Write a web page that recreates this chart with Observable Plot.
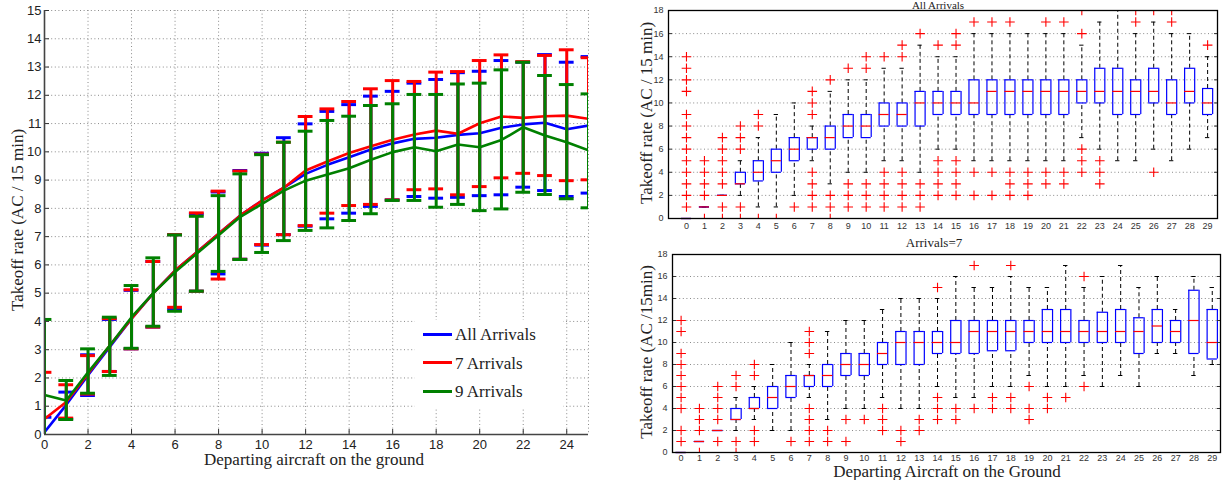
<!DOCTYPE html>
<html><head><meta charset="utf-8">
<script src="https://cdn.jsdelivr.net/npm/d3@7"></script>
<script src="https://cdn.jsdelivr.net/npm/@observablehq/plot@0.6"></script>
<style>
body{margin:0;background:#fff;}
#root{position:relative;width:1225px;height:480px;overflow:hidden;background:#fff;}
.abs{position:absolute;}
.serif{font-family:"Liberation Serif","Times New Roman",serif;color:#222;white-space:nowrap;}
.rot{transform:translate(-50%,-50%) rotate(-90deg);}
.ctr{transform:translate(-50%,-50%);}
.leg{position:absolute;left:415px;top:320px;width:148px;height:87px;background:#fff;}
.row{position:absolute;left:8px;height:20px;font-size:17px;}
.row span.sw{display:inline-block;width:29px;height:0;border-top:3px solid;vertical-align:middle;margin-right:3px;position:relative;top:-2px;}
</style></head><body><div id="root"></div>
<script>
// ---------- Left chart data ----------
const departing = [0,1,2,3,4,5,6,7,8,9,10,11,12,13,14,15,16,17,18,19,20,21,22,23,24,25];
const meanAll   = [0.08,1.05,2.1,3.1,4.1,5.0,5.8,6.45,7.1,7.75,8.28,8.73,9.22,9.54,9.81,10.08,10.3,10.46,10.5,10.6,10.66,10.85,10.97,11.03,10.8,10.93];
const meanSeven = [0.55,1.15,2.15,3.15,4.1,5.0,5.8,6.45,7.1,7.75,8.28,8.73,9.34,9.66,9.96,10.2,10.43,10.61,10.75,10.64,11.01,11.25,11.2,11.26,11.28,11.17];
const meanNine  = [1.4,1.2,2.2,3.15,4.15,5.0,5.75,6.4,7.05,7.7,8.16,8.63,8.98,9.2,9.42,9.72,9.99,10.16,10.02,10.26,10.16,10.42,10.87,10.58,10.34,10.05];
const hiAll   = [0.61,1.5,2.82,4.07,5.1,6.12,7.07,7.8,8.58,9.34,9.95,10.5,10.99,11.43,11.67,11.97,12.14,12.43,12.56,12.8,12.85,13.23,13.17,13.44,13.17,13.37];
const loAll   = [-0.45,0.55,1.38,2.23,3.03,3.8,4.42,5.07,5.68,6.2,6.7,7.07,7.37,7.63,7.83,8.07,8.3,8.42,8.36,8.39,8.45,8.48,8.75,8.63,8.42,8.54];
const hiSeven = [2.2,1.76,2.79,4.1,5.12,6.12,7.07,7.84,8.61,9.32,9.92,10.34,11.25,11.52,11.78,12.23,12.52,12.49,12.82,12.84,13.23,13.43,13.19,13.41,13.61,13.33];
const loSeven = [-1.1,0.58,1.43,2.23,3.03,3.8,4.5,5.07,5.5,6.2,6.72,7.07,7.39,7.83,8.1,8.14,8.3,8.66,8.69,8.48,8.77,9.08,9.24,9.16,8.98,9.01];
const hiNine  = [4.07,1.91,3.03,4.15,5.27,6.25,7.06,7.72,8.45,9.22,9.9,10.34,10.73,11.11,11.26,11.64,11.7,12.03,12.03,12.4,12.43,12.9,13.17,12.7,12.38,12.05];
const loNine  = [-1.3,0.53,1.46,2.09,3.05,3.83,4.36,5.07,5.77,6.19,6.44,6.86,7.22,7.31,7.57,7.81,8.28,8.28,8.04,8.14,7.92,7.98,8.57,8.49,8.34,8.02];
const seriesNames = ["All Arrivals","7 Arrivals","9 Arrivals"];
const seriesColors = ["#0000ff","#ff0000","#008000"];
const leftXTicks = [0,2,4,6,8,10,12,14,16,18,20,22,24];
const leftYTicks = [0,1,2,3,4,5,6,7,8,9,10,11,12,13,14,15];

// ---------- Box plot data ----------
const cats = [0,1,2,3,4,5,6,7,8,9,10,11,12,13,14,15,16,17,18,19,20,21,22,23,24,25,26,27,28,29];
// All arrivals
const q1All  = [0,1,2,3,3.25,4,5,6,6,7,7,8,8,8,9,9,9,9,9,9,9,9,10,10,9,9,10,9,10,9];
const medAll = [0,1,2,3,4,5,6,7,7,8,8,9,9,10,10,10,10,11,11,11,11,11,11,11,11,11,11,10,11,10];
const q3All  = [0,1,2,4,5,6,7,7,8,9,9,10,10,11,11,11,12,12,12,12,12,12,12,13,13,12,13,12,13,11.25];
const wloAll = [0,1,2,2,1,1,2,5,3,4,4,5,5,4,6,6,5,5,5,5,5,5,7,6,5,5,6,5,6,7];
const whiAll = [0,1,2,5,7,9,10,8,11,12,12,13,13,15,14,14,16,16,16,16,16,16,15,17,18,16,17,16,16,14];
const outAll = [
  [1,2,3,4,5,6,7,8,9,11,12,13,14],[0,2,3,4,5],[0,1,3,4,5,6,7],[0,1,6,7,8],[0,8,9],[0],[1],
  [1,2,3,4,9,10,11],[0,1,2,12],[1,2,3,13],[1,2,3,13,14],[1,2,3,4,14],[1,2,3,4,14,15],[1,2,3,16],
  [2,3,4,5,15],[2,3,4,5,15,16],[2,4,17],[2,4,17],[2,3,4,17],[2,3,4],[3,4,17],[3,4,17],
  [4,5,6,16,18],[3,4,5],[],[17,18],[4,18],[17,18],[],[15]
];
// Arrivals = 7
const q1Sev  = [0,1,2,3,4,4,5,6,6,7,7,8,8,8,9,9,9,9.25,9.25,10,10,10,10,10,10,9,10,10,9,8.5];
const medSev = [0,1,2,3,4,5,6,7,7,8,8,9,10,10,10,10,11,11,11,11,11,11,11,11,11,11,11.5,11,12,10];
const q3Sev  = [0,1,2,4,5,6,7,7,8,9,9,10,11,11,11,12,12,12,12,12,13,13,12,12.75,13,12.25,13,12,14.75,13];
const wloSev = [0,1,2,2,3,2,2,5,3,4,4,5,4,4,6,5,5,6,6,7,6,6,7,6,7,6,9,9,7,8];
const whiSev = [0,1,2,5,6,8,10,8,11,12,12,13,14,14,14,16,15,15,16,15,15,17,15,16,17,15,16,13,16,15];
const outSev = [
  [1,2,4,5,6,7,8,9,11,12],[0,2,3,4],[1,3,4,5,6],[0,1,6,7],[1,2,7,8],[],[1],
  [1,2,3,4,9,10,11],[1,2],[1,3],[3],[2,3,4],[1,2],[2,3],[3,4,5,15],[3,4],[4,17],[4,5],
  [4,5,17],[3,4,6],[4,5],[5],[6,16],[],[],[],[],[],[],[]
];
const boxYTicks = [0,2,4,6,8,10,12,14,16,18];

// ---------- helpers ----------
const root = document.getElementById("root");
function place(el, left, top){ el.style.position="absolute"; el.style.left=left+"px"; el.style.top=top+"px"; root.appendChild(el); return el; }
function label(text, x, y, size, cls){ const d=document.createElement("div"); d.className="serif "+cls; d.textContent=text; d.style.fontSize=size+"px"; place(d,x,y); return d; }
const gridStyle = {stroke:"#8a8a8a", strokeOpacity:1, strokeDasharray:"1,2.6", strokeWidth:1};

// ---------- Left chart ----------
const means=[meanAll,meanSeven,meanNine], his=[hiAll,hiSeven,hiNine], los=[loAll,loSeven,loNine];
const seriesMarks = [];
seriesNames.forEach((name, s) => {
  const rows = departing.map((x,i)=>({x, mean:means[s][i], hi:his[s][i], lo:los[s][i]}));
  const c = seriesColors[s];
  seriesMarks.push(
    Plot.ruleX(rows, {x:"x", y1:"lo", y2:"hi", stroke:c, strokeWidth:3, clip:true}),
    Plot.ruleY(rows, {y:"hi", x1:d=>d.x-0.34, x2:d=>d.x+0.34, stroke:c, strokeWidth:3, clip:true}),
    Plot.ruleY(rows, {y:"lo", x1:d=>d.x-0.34, x2:d=>d.x+0.34, stroke:c, strokeWidth:3, clip:true}),
    Plot.line(rows, {x:"x", y:"mean", stroke:c, strokeWidth:2.6, clip:true})
  );
});
const left = Plot.plot({
  width:600, height:480,
  marginLeft:44, marginRight:12, marginTop:10, marginBottom:46,
  x:{domain:[0,25]}, y:{domain:[0,15]},
  style:{fontFamily:"'Liberation Sans', Arial, sans-serif", fontSize:"13px", color:"#222", background:"transparent"},
  marks:[
    Plot.gridX([...leftXTicks,25], gridStyle),
    Plot.gridY(leftYTicks, gridStyle),
    ...seriesMarks,
    Plot.axisX({ticks:leftXTicks, tickSize:-5, tickPadding:10, label:null, stroke:"#333"}),
    Plot.axisY({ticks:leftYTicks, tickSize:-5, tickPadding:8, label:null, stroke:"#333"}),
    Plot.ruleX([0], {stroke:"#444", strokeWidth:1.6}),
    Plot.ruleY([0], {stroke:"#444", strokeWidth:1.6})
  ]
});
place(left, 0, 0);
label("Takeoff rate (AC / 15 min)", 18, 220, 17, "rot");
label("Departing aircraft on the ground", 314, 460, 17, "ctr");
// legend
const leg = document.createElement("div"); leg.className="leg"; root.appendChild(leg);
seriesNames.forEach((n,i)=>{
  const r=document.createElement("div"); r.className="row serif"; r.style.top=(5+i*28.5)+"px";
  r.innerHTML=`<span class="sw" style="border-color:${seriesColors[i]}"></span>${n}`;
  leg.appendChild(r);
});

// ---------- Box plots ----------
function boxPlot({q1,med,q3,wlo,whi,out,xdom,margins,height,width,xPad}){
  const rows = cats.map((c,i)=>({c,q1:q1[i],med:med[i],q3:q3[i],wlo:wlo[i],whi:whi[i]}));
  const outs = cats.flatMap((c,i)=>out[i].map(v=>({c,v})));
  const bw=0.28, cw=0.12;
  return Plot.plot({
    width, height, ...margins,
    x:{domain:xdom}, y:{domain:[0,18]},
    style:{fontFamily:"'Liberation Sans', Arial, sans-serif", fontSize:"9px", color:"#333", background:"transparent"},
    marks:[
      Plot.gridY(boxYTicks.slice(1,-1), gridStyle),
      Plot.ruleX(rows, {x:"c", y1:"q3", y2:"whi", stroke:"#000", strokeDasharray:"4,3", strokeWidth:1}),
      Plot.ruleX(rows, {x:"c", y1:"wlo", y2:"q1", stroke:"#000", strokeDasharray:"4,3", strokeWidth:1}),
      Plot.ruleY(rows, {y:"whi", x1:d=>d.c-cw, x2:d=>d.c+cw, stroke:"#000", strokeWidth:1}),
      Plot.ruleY(rows, {y:"wlo", x1:d=>d.c-cw, x2:d=>d.c+cw, stroke:"#000", strokeWidth:1}),
      Plot.ruleX(rows, {x:d=>d.c-bw, y1:"q1", y2:"q3", stroke:"#0000ff", strokeWidth:1.2}),
      Plot.ruleX(rows, {x:d=>d.c+bw, y1:"q1", y2:"q3", stroke:"#0000ff", strokeWidth:1.2}),
      Plot.ruleY(rows, {y:"q1", x1:d=>d.c-bw, x2:d=>d.c+bw, stroke:"#0000ff", strokeWidth:1.2}),
      Plot.ruleY(rows, {y:"q3", x1:d=>d.c-bw, x2:d=>d.c+bw, stroke:"#0000ff", strokeWidth:1.2}),
      Plot.ruleY(rows, {y:"med", x1:d=>d.c-bw, x2:d=>d.c+bw, stroke:"#ff0000", strokeWidth:1.2}),
      Plot.dot(outs, {x:"c", y:"v", symbol:"plus", r:3.2, stroke:"#ff0000", strokeWidth:1.1, clip:true}),
      Plot.axisY({ticks:boxYTicks, anchor:"left", tickSize:-4, tickPadding:9, label:null}),
      Plot.axisY({ticks:boxYTicks, anchor:"right", tickSize:-4, tickFormat:()=>"", label:null}),
      Plot.axisX({ticks:cats, tickSize:0, tickPadding:xPad, label:null}),
      Plot.frame({stroke:"#000", strokeWidth:1.3})
    ]
  });
}
const top1 = boxPlot({q1:q1All,med:medAll,q3:q3All,wlo:wloAll,whi:whiAll,out:outAll,
  xdom:[-1,29.55], width:605, height:240, xPad:4,
  margins:{marginLeft:48, marginRight:8, marginTop:10, marginBottom:22}});
place(top1, 620, 0);
const bot1 = boxPlot({q1:q1Sev,med:medSev,q3:q3Sev,wlo:wloSev,whi:whiSev,out:outSev,
  xdom:[-0.47,29.45], width:605, height:240, xPad:2,
  margins:{marginLeft:52, marginRight:5, marginTop:14, marginBottom:28}});
place(bot1, 620, 240);
label("All Arrivals", 938, 5, 11, "ctr");
label("Arrivals=7", 934, 243, 13, "ctr");
label("Takeoff rate (AC / 15 min)", 647, 113, 17, "rot");
label("Takeoff rate (AC /15min)", 647, 352, 17, "rot");
label("Departing Aircraft on the Ground", 947, 472, 17, "ctr");
</script></body></html>
